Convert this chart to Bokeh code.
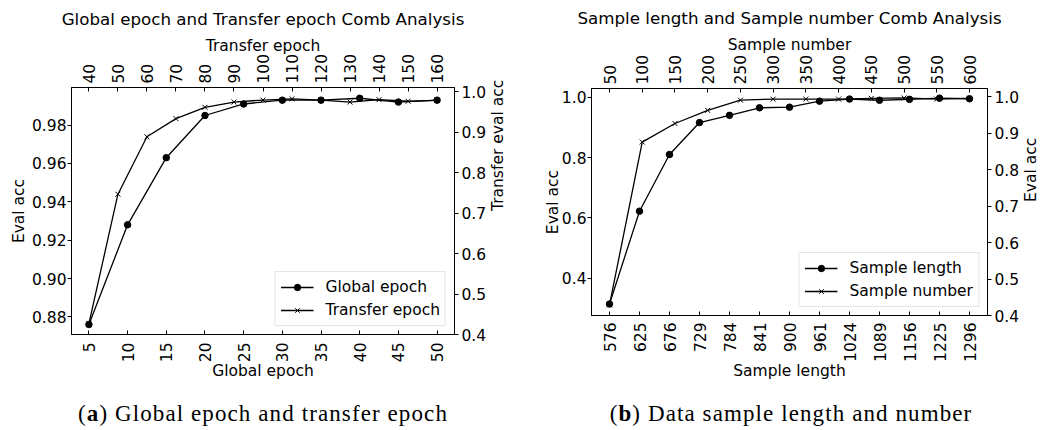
import math
from bokeh.plotting import figure
from bokeh.models import (Range1d, LinearAxis, FixedTicker, Legend,
                          LegendItem, Div, NumeralTickFormatter)
from bokeh.layouts import row, column
from bokeh.embed import file_html
from bokeh.resources import INLINE

# ---------------- data ----------------
global_epoch = [5, 10, 15, 20, 25, 30, 35, 40, 45, 50]
global_acc = [0.876, 0.928, 0.963, 0.985, 0.991, 0.993, 0.993, 0.994, 0.992, 0.993]
transfer_epoch = [40, 50, 60, 70, 80, 90, 100, 110, 120, 130, 140, 150, 160]
transfer_acc = [0.427, 0.747, 0.889, 0.934, 0.962, 0.975, 0.980, 0.983, 0.980,
                0.975, 0.981, 0.977, 0.979]

sample_length = ["576", "625", "676", "729", "784", "841", "900", "961", "1024",
                 "1089", "1156", "1225", "1296"]
length_acc = [0.314, 0.622, 0.810, 0.916, 0.940, 0.965, 0.967, 0.987, 0.994,
              0.990, 0.993, 0.997, 0.995]
sample_number = [50, 100, 150, 200, 250, 300, 350, 400, 450, 500, 550, 600]
number_acc = [0.429, 0.876, 0.927, 0.963, 0.991, 0.994, 0.994, 0.994, 0.996,
              0.997, 0.994, 0.996]

a_left_ticks = [0.88, 0.90, 0.92, 0.94, 0.96, 0.98]
right_ticks = [0.4, 0.5, 0.6, 0.7, 0.8, 0.9, 1.0]
b_left_ticks = [0.4, 0.6, 0.8, 1.0]

# sample-length categories are drawn at equally spaced positions
length_pos = list(range(len(sample_length)))

FONT = "DejaVu Sans"
FS = "15.5px"


def style_axis(ax):
    ax.major_label_text_font = FONT
    ax.major_label_text_font_size = FS
    ax.major_label_text_color = "black"
    ax.axis_label_text_font = FONT
    ax.axis_label_text_font_size = FS
    ax.axis_label_text_font_style = "normal"
    ax.axis_label_text_color = "black"
    ax.minor_tick_line_color = None
    ax.axis_line_color = "black"
    ax.major_tick_line_color = "black"


def y_axis_style(ax, tick_standoff, label_standoff):
    style_axis(ax)
    ax.major_tick_in = 0
    ax.major_tick_out = 4
    ax.major_label_standoff = tick_standoff
    ax.axis_label_standoff = label_standoff


def x_axis_style(ax, tick_standoff, label_standoff):
    style_axis(ax)
    ax.major_tick_in = 4
    ax.major_tick_out = 0
    ax.major_label_orientation = math.pi / 2
    ax.major_label_standoff = tick_standoff
    ax.axis_label_standoff = label_standoff


def style_fig(p):
    p.xgrid.visible = False
    p.ygrid.visible = False
    p.outline_line_color = "black"
    p.outline_line_width = 1
    p.title.text_font = FONT
    p.title.text_font_size = "16.7px"
    p.title.text_font_style = "normal"
    p.title.text_color = "black"
    p.title.align = "center"
    p.title.standoff = 10
    p.background_fill_color = "white"
    p.border_fill_color = "white"


def make_legend(items):
    lg = Legend(items=items, location="bottom_right")
    lg.label_text_font = FONT
    lg.label_text_font_size = FS
    lg.label_text_color = "black"
    lg.glyph_width = 33
    lg.glyph_height = 16
    lg.label_height = 20
    lg.label_standoff = 12
    lg.spacing = 3
    lg.padding = 5
    lg.margin = 8
    lg.border_line_color = "#cccccc"
    lg.border_line_width = 1
    lg.background_fill_alpha = 0.8
    return lg


# ---------------- panel (a) ----------------
pa = figure(width=522, height=388, output_backend="svg", toolbar_location=None,
            x_range=Range1d(2.75, 52.25), y_range=Range1d(0.8708, 0.9996),
            title="Global epoch and Transfer epoch Comb Analysis",
            min_border_left=71, min_border_right=68, min_border_top=87,
            min_border_bottom=54)
style_fig(pa)
pa.extra_x_ranges = {"top": Range1d(34, 166)}
pa.extra_y_ranges = {"right": Range1d(0.4, 1.011)}

pa.xaxis.ticker = FixedTicker(ticks=global_epoch)
pa.xaxis.axis_label = "Global epoch"
pa.yaxis.ticker = FixedTicker(ticks=a_left_ticks)
pa.yaxis.formatter = NumeralTickFormatter(format="0.00")
pa.yaxis.axis_label = "Eval acc"
for ax in pa.xaxis:
    x_axis_style(ax, 8, -3)
for ax in pa.yaxis:
    y_axis_style(ax, 1, 1)

ta = LinearAxis(x_range_name="top", axis_label="Transfer epoch",
                ticker=FixedTicker(ticks=transfer_epoch))
x_axis_style(ta, 4, -4)
pa.add_layout(ta, "above")

ra = LinearAxis(y_range_name="right", axis_label="Transfer eval acc",
                ticker=FixedTicker(ticks=right_ticks),
                formatter=NumeralTickFormatter(format="0.0"))
y_axis_style(ra, 3, 9)
ra.axis_label_orientation = math.pi / 2
pa.add_layout(ra, "right")

g_line = pa.line(global_epoch, global_acc, line_color="black", line_width=1.3)
g_pts = pa.scatter(global_epoch, global_acc, marker="circle", size=6.5,
                   fill_color="black", line_color="black")
t_line = pa.line(transfer_epoch, transfer_acc, x_range_name="top",
                 y_range_name="right", line_color="black", line_width=1.3)
t_pts = pa.scatter(transfer_epoch, transfer_acc, x_range_name="top",
                   y_range_name="right", marker="x", size=7,
                   line_color="black", line_width=1)
pa.add_layout(make_legend([
    LegendItem(label="Global epoch", renderers=[g_line, g_pts]),
    LegendItem(label="Transfer epoch", renderers=[t_line, t_pts]),
]))

# ---------------- panel (b) ----------------
pb = figure(width=526, height=388, output_backend="svg", toolbar_location=None,
            x_range=Range1d(-0.6, len(sample_length) - 0.4),
            y_range=Range1d(0.276, 1.029),
            title="Sample length and Sample number Comb Analysis",
            min_border_left=65, min_border_right=62, min_border_top=88,
            min_border_bottom=73)
style_fig(pb)
pb.extra_x_ranges = {"top": Range1d(22.5, 627.5)}
pb.extra_y_ranges = {"right": Range1d(0.4, 1.023)}

pb.xaxis.ticker = FixedTicker(ticks=length_pos)
pb.xaxis.major_label_overrides = {i: s for i, s in zip(length_pos, sample_length)}
pb.xaxis.axis_label = "Sample length"
pb.yaxis.ticker = FixedTicker(ticks=b_left_ticks)
pb.yaxis.formatter = NumeralTickFormatter(format="0.0")
pb.yaxis.axis_label = "Eval acc"
for ax in pb.xaxis:
    x_axis_style(ax, 7, -3)
for ax in pb.yaxis:
    y_axis_style(ax, 1, -3)

tb = LinearAxis(x_range_name="top", axis_label="Sample number",
                ticker=FixedTicker(ticks=sample_number))
x_axis_style(tb, 4, -2)
pb.add_layout(tb, "above")

rb = LinearAxis(y_range_name="right", axis_label="Eval acc",
                ticker=FixedTicker(ticks=right_ticks),
                formatter=NumeralTickFormatter(format="0.0"))
y_axis_style(rb, 3, 9)
rb.axis_label_orientation = math.pi / 2
pb.add_layout(rb, "right")

l_line = pb.line(length_pos, length_acc, line_color="black", line_width=1.3)
l_pts = pb.scatter(length_pos, length_acc, marker="circle", size=6.5,
                   fill_color="black", line_color="black")
n_line = pb.line(sample_number, number_acc, x_range_name="top",
                 y_range_name="right", line_color="black", line_width=1.3)
n_pts = pb.scatter(sample_number, number_acc, x_range_name="top",
                   y_range_name="right", marker="x", size=7,
                   line_color="black", line_width=1)
pb.add_layout(make_legend([
    LegendItem(label="Sample length", renderers=[l_line, l_pts]),
    LegendItem(label="Sample number", renderers=[n_line, n_pts]),
]))

# ---------------- captions ----------------
cap_style = {"text-align": "center", "font-family": "Liberation Serif",
             "font-size": "23px", "letter-spacing": "1.1px", "color": "black",
             "padding-top": "5px"}
cap_a = Div(text="(<b>a</b>) Global epoch and transfer epoch", width=516,
            height=36, styles=cap_style)
cap_b = Div(text="(<b>b</b>) Data sample length and number", width=520,
            height=36, styles=cap_style)

layout = row(column(pa, cap_a), column(pb, cap_b))
open("out.html", "w").write(file_html(layout, INLINE))
